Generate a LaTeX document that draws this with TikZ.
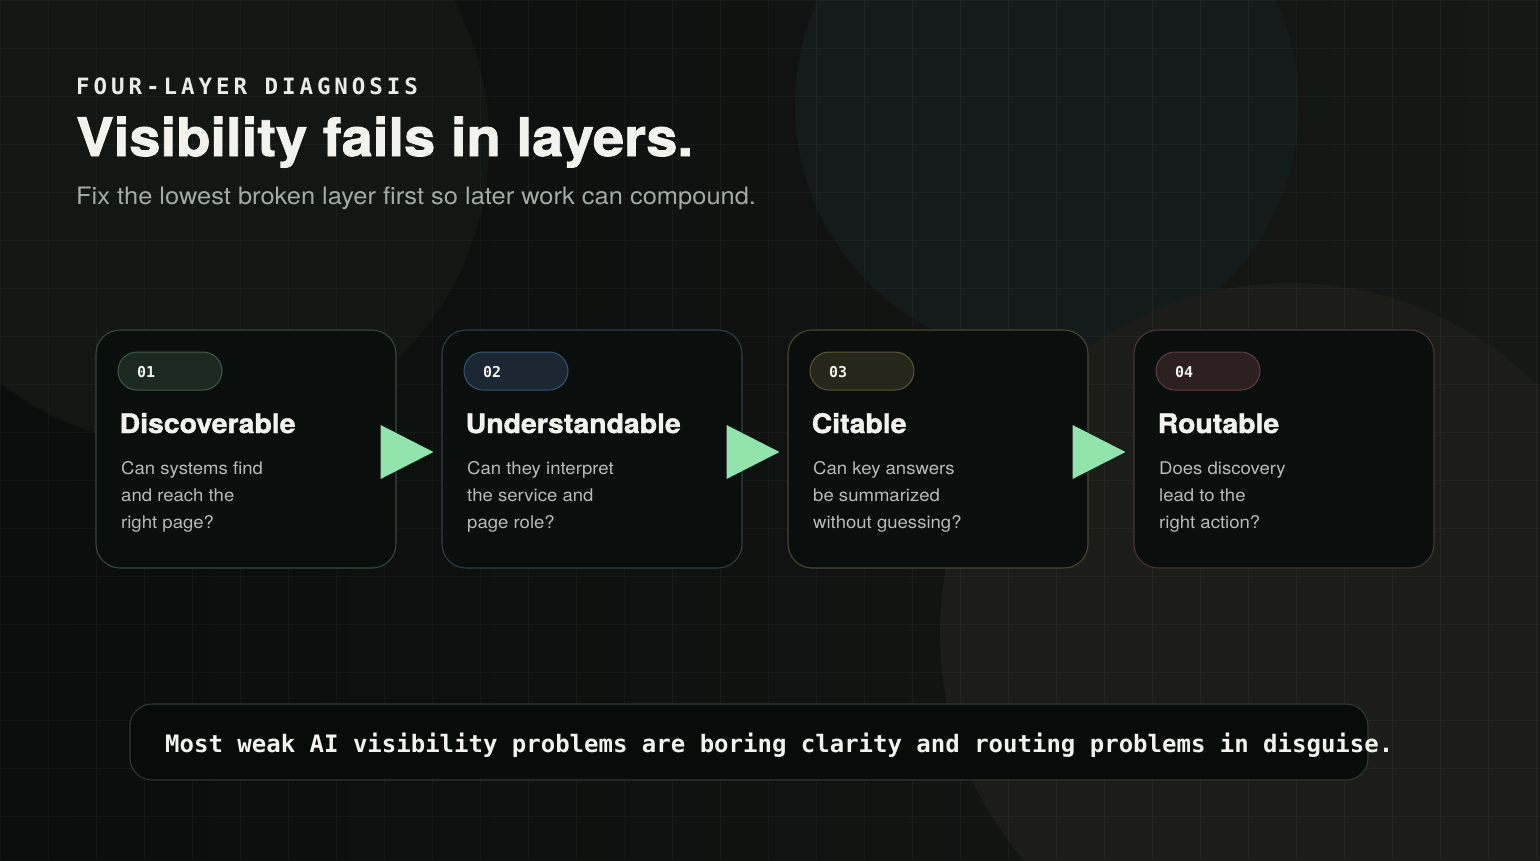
\documentclass[tikz,border=0pt]{standalone}
\usepackage{fontspec}
\setmainfont{TeX Gyre Heros}[FakeStretch=1.06]
\newfontfamily\heavyfont{TeX Gyre Heros}[FakeStretch=1.06,FakeBold=1.5]
\newfontfamily\mymono{DejaVu Sans Mono}
\newfontfamily\mymonospaced{DejaVu Sans Mono}[LetterSpace=17.5]
\definecolor{bgL}{HTML}{0A0D0C}
\definecolor{bgR}{HTML}{161815}
\definecolor{circUL}{HTML}{121714}
\definecolor{circUR}{HTML}{131B1B}
\definecolor{circLR}{HTML}{1D1E19}
\definecolor{cardfill}{HTML}{0A0F0D}
\definecolor{cs1}{HTML}{34493B}
\definecolor{cs2}{HTML}{2C3E4C}
\definecolor{cs3}{HTML}{4A4731}
\definecolor{cs4}{HTML}{4B3535}
\definecolor{bf1}{HTML}{1B2920}
\definecolor{bf2}{HTML}{1B2733}
\definecolor{bf3}{HTML}{27261B}
\definecolor{bf4}{HTML}{2B1F1F}
\definecolor{bs1}{HTML}{3D5C46}
\definecolor{bs2}{HTML}{385570}
\definecolor{bs3}{HTML}{5C5736}
\definecolor{bs4}{HTML}{603E3E}
\definecolor{arrowgreen}{HTML}{93E3AD}
\definecolor{titlecol}{HTML}{F3F3EE}
\definecolor{subcol}{HTML}{A2ACA6}
\definecolor{desccol}{HTML}{B5BCB8}
\definecolor{headcol}{HTML}{E8EBE6}
\definecolor{quotefill}{HTML}{070B0A}
\definecolor{quotestroke}{HTML}{2C3A32}
\begin{document}
\begin{tikzpicture}[x=1pt,y=-1pt,
  gridline/.style={draw=white, draw opacity=0.035, line width=1pt},
  card/.style={draw, line width=1.1pt, rounded corners=24pt, fill=cardfill, minimum width=300pt, minimum height=238pt, inner sep=0pt},
  badge/.style={draw, line width=1pt, rounded corners=19pt, minimum width=104pt, minimum height=38pt, inner sep=0pt},
  badgetext/.style={anchor=base west, inner sep=0pt, text=titlecol, font=\mymono\bfseries\fontsize{15}{18}\selectfont},
  cardtitle/.style={anchor=base west, inner sep=0pt, text=titlecol, font=\heavyfont\bfseries\fontsize{26.8}{30}\selectfont},
  desc/.style={anchor=base west, inner sep=0pt, text=desccol, font=\fontsize{17.5}{21}\selectfont},
  arrowfill/.style={fill=arrowgreen},
  quotebox/.style={draw=quotestroke, line width=1.1pt, fill=quotefill, rounded corners=22pt, minimum width=1238pt, minimum height=76pt, inner sep=0pt}]
\useasboundingbox (0,0) rectangle (1540,860);
% background
\shade[left color=bgL, right color=bgR] (0,0) rectangle (1540,860);
\fill[circUL] (185,142) circle[radius=304];
\fill[circUR] (1047,105) circle[radius=252];
\fill[circLR, fill opacity=0.92] (1290,633) circle[radius=350];
\foreach \x in {0,48,...,1536} \draw[gridline] (\x,0) -- (\x,860);
\foreach \y in {0,48,...,859} \draw[gridline] (0,\y) -- (1540,\y);
% header
\node[anchor=base west, inner sep=0pt, text=headcol, font=\mymonospaced\bfseries\fontsize{22.5}{26}\selectfont] (kicker) at (76,94) {FOUR-LAYER DIAGNOSIS};
\node[anchor=base west, inner sep=0pt, text=titlecol, font=\heavyfont\bfseries\fontsize{53}{60}\selectfont] (title) at (76,156) {Visibility fails in layers.};
\node[anchor=base west, inner sep=0pt, text=subcol, font=\fontsize{24}{28}\selectfont] (subtitle) at (76,204) {Fix the lowest broken layer first so later work can compound.};
% cards
\foreach \i/\num/\ttl/\la/\lb/\lc in {
  1/01/Discoverable/Can systems find/and reach the/right page?,
  2/02/Understandable/Can they interpret/the service and/page role?,
  3/03/Citable/Can key answers/be summarized/without guessing?,
  4/04/Routable/Does discovery/lead to the/right action?}{
  \pgfmathsetmacro\L{96+346*(\i-1)}
  \node[card, draw=cs\i] (card\i) at (\L+150,449) {};
  \node[badge, draw=bs\i, fill=bf\i] (badge\i) at (\L+74,371) {};
  \node[badgetext] (num\i) at (\L+41,377) {\num};
  \node[cardtitle] (ttl\i) at (\L+23.5,433) {\ttl};
  \node[desc] (da\i) at (\L+25,474) {\la};
  \node[desc] (db\i) at (\L+25,501) {\lb};
  \node[desc] (dc\i) at (\L+25,528) {\lc};
}
% arrows between cards
\foreach \i/\j in {1/2,2/3,3/4}
  \fill[arrowfill] ([xshift=-16pt,yshift=24pt]card\i.east) -- ([xshift=-8pt,yshift=-3pt]card\j.west) -- ([xshift=-16pt,yshift=-30pt]card\i.east) -- cycle;
% bottom quote
\node[quotebox] (quote) at (749,742) {};
\node[anchor=base west, inner sep=0pt, text=titlecol, font=\mymono\bfseries\fontsize{24}{28}\selectfont] (quotetext) at (165,752) {Most weak AI visibility problems are boring clarity and routing problems in disguise.};
\end{tikzpicture}
\end{document}
